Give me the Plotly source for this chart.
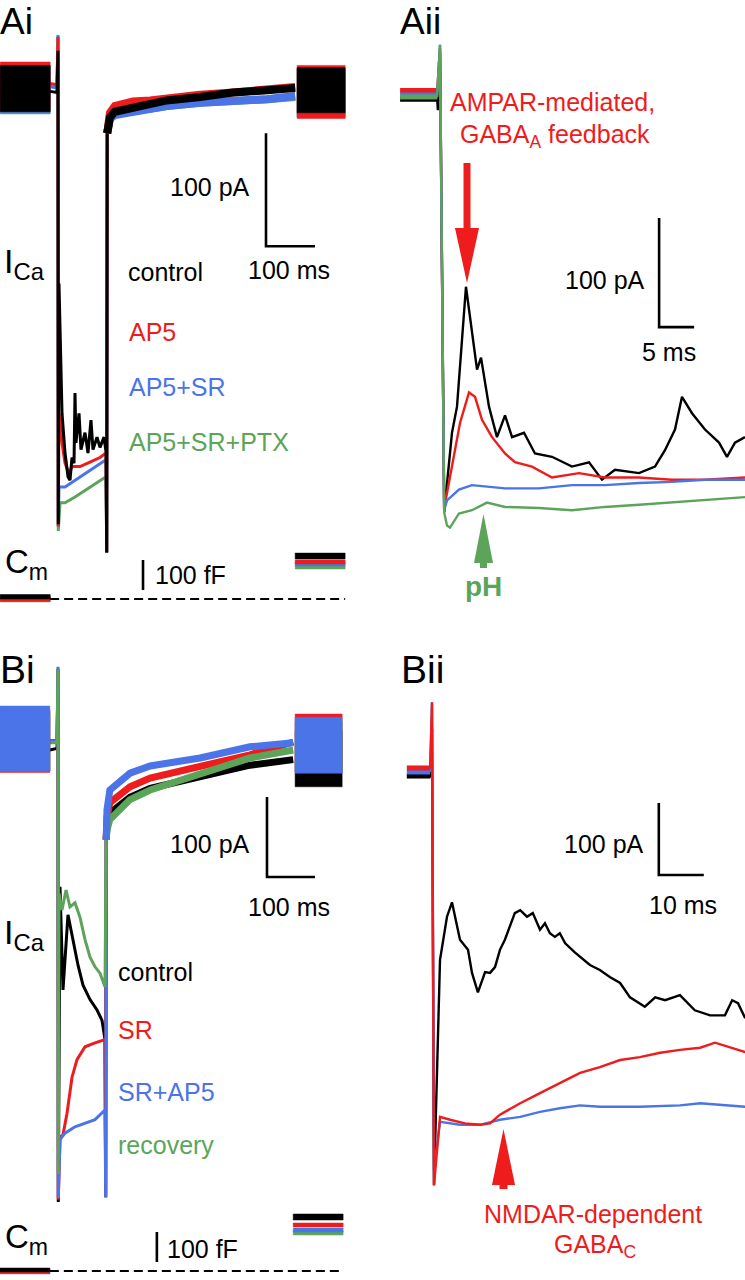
import plotly.graph_objects as go

W, H = 745, 1280
BLACK = "#000000"
RED = "#ee1c1c"
BLUE = "#4a74e8"
GREEN = "#5ca45a"
FONT = "Liberation Sans, Arial, Helvetica, sans-serif"

# ======================= DATA =======================
# ---- Panel Ai: whole 100-ms depolarisation (time in ms from step onset, current in pA from holding)
ai_names = ["control", "AP5", "AP5+SR", "AP5+SR+PTX"]
ai_colors = [BLACK, RED, BLUE, GREEN]
ai_block_pre_t = [-118, -16]
ai_block_post_t = [488, 586]
ai_pre_top = [20, 23, 19, 19]
ai_pre_bot = [-21, -19, -22, -23]
ai_post_top = [18, 20, 17, 17]
ai_post_bot = [-22, -27, -26, -25]

ai_t_control = [-16, -2, 0, 0.6, 2.0, 6.1, 8.2, 14.3, 20.4, 24.5, 28.6, 32.7, 34.7, 36.7, 42.9, 46.9,
                55.1, 61.2, 67.3, 71.4, 79.6, 85.7, 93.9, 98.0, 99.4, 100.4]
ai_i_control = [-3, -4, 33, -386, -173, -235, -288, -323, -344, -347, -327, -332, -270, -314, -288, -320,
                -305, -323, -294, -320, -309, -318, -309, -322, -411, -40]
ai_t_ap5 = [-16, -2, 0, 0.6, 2.0, 8.2, 14.3, 22.4, 28.6, 44.9, 65.3, 85.7, 98.0, 99.4, 100.4]
ai_i_ap5 = [4, 3, 45, -388, -288, -314, -332, -341, -335, -335, -331, -327, -323, -411, -40]
ai_t_sr = [-16, -2, 0, 0.6, 2.0, 14.3, 34.7, 55.1, 75.5, 98.0, 99.4, 100.4]
ai_i_sr = [1, 0, 46, -388, -353, -353, -347, -341, -335, -329, -411, -40]
ai_t_ptx = [-16, -2, 0, 0.6, 4.1, 14.3, 34.7, 55.1, 75.5, 98.0, 99.4, 100.4]
ai_i_ptx = [2, 1, 47, -392, -367, -367, -362, -356, -350, -344, -411, -40]

ai_decay_t = [100.4, 102, 106, 116, 153, 188, 222, 290, 357, 427, 484]
ai_decay_control = [-40, -31, -26, -21, -17, -13, -11, -8, -4, -2, 0]
ai_decay_ap5 = [-40, -28, -22, -16, -12, -11, -9, -6, -4, -2, 1]
ai_decay_sr = [-40, -32, -27, -24, -21, -18, -16, -13, -12, -10, -7]
ai_decay_ptx = [-40, -32, -27, -23, -20, -18, -16, -13, -12, -10, -8]

# membrane capacitance (fF, relative to pre-step)
ai_cm_pre_t = [-118, -16]
ai_cm_post_t = [484, 586]
ai_cm_pre_top = [15, 10, 12, 6]
ai_cm_pre_bot = [0, -8, -4, -10]
ai_cm_post_top = [153, 130, 123, 113]
ai_cm_post_bot = [133, 117, 110, 100]
ai_cm_base_t = [-16, 586]
ai_cm_base = [0, 0]

# ---- Panel Aii: first ~45 ms of the step
aii_pre_t = [-5.7, -0.4]
aii_pre_level = [-3, 5, 1, -1]
aii_t_control = [-0.4, -0.3, 0, 0.6, 1.71, 2.43, 3.71, 4.57, 5.29, 5.86, 7.0, 8.14, 9.29, 10.29, 12.0,
                 13.57, 16.0, 18.86, 21.29, 23.14, 25.0, 28.43, 30.71, 32.14, 33.57, 34.57, 36.0, 37.86,
                 39.86, 41.0, 42.14, 43.57]
aii_i_control = [-3, -13, 40, -382, -309, -285, -175, -215, -251, -240, -285, -313, -293, -313, -309,
                 -328, -331, -340, -336, -352, -343, -346, -340, -325, -306, -276, -291, -306,
                 -318, -331, -318, -313]
aii_t_ap5 = [-0.4, 0, 0.6, 1.71, 2.86, 4.14, 5.0, 6.0, 7.43, 9.29, 10.71, 13.14, 16.0, 19.86, 23.57,
             28.43, 33.14, 37.86, 43.57]
aii_i_ap5 = [5, 44, -378, -340, -300, -272, -276, -297, -313, -328, -336, -340, -350, -346, -350,
             -350, -352, -352, -350]
aii_t_sr = [-0.4, 0, 0.6, 1.0, 2.71, 4.57, 9.29, 14.14, 18.86, 23.57, 28.43, 33.14, 37.86, 43.57]
aii_i_sr = [1, 47, -380, -371, -361, -357, -360, -360, -357, -357, -355, -354, -352, -352]
aii_t_ptx = [-0.4, 0, 0.6, 1.0, 1.43, 2.71, 4.57, 6.71, 9.29, 14.14, 18.86, 23.57, 28.43, 33.14, 37.86, 43.57]
aii_i_ptx = [-1, 47, -382, -394, -396, -383, -380, -373, -377, -378, -380, -377, -375, -373, -371, -368]

# ---- Panel Bi: whole step
bi_names = ["control", "SR", "SR+AP5", "recovery"]
bi_colors = [BLACK, RED, BLUE, GREEN]
bi_block_pre_t = [-121, -17]
bi_block_post_t = [494, 592]
bi_pre_top = [38, 40, 45, 35]
bi_pre_bot = [-36, -38, -37, -35]
bi_post_top = [14, 35, 31, 25]
bi_post_bot = [-56, -37, -39, -38]

bi_t_control = [-17, -2, 0, 0.6, 4.2, 10.4, 20.8, 31.3, 41.7, 52.1, 66.7, 81.3, 91.7, 97.9, 99.4, 100.4]
bi_i_control = [-10, -8, 90, -575, -181, -310, -216, -248, -279, -304, -322, -335, -348, -372, -569, -122]
bi_t_sr = [-17, -2, 0, 0.6, 4.2, 10.4, 18.8, 29.2, 39.6, 56.3, 77.1, 97.9, 99.4, 100.4]
bi_i_sr = [2, 2, 92, -572, -494, -491, -464, -419, -397, -381, -376, -372, -569, -122]
bi_t_srap5 = [-17, -2, 0, 0.6, 4.2, 14.6, 35.4, 56.3, 77.1, 97.9, 99.4, 100.4]
bi_i_srap5 = [1, 1, 94, -570, -497, -489, -481, -476, -472, -460, -569, -122]
bi_t_rec = [-17, -2, 0, 0.6, 2.1, 8.3, 16.7, 25.0, 35.4, 45.8, 56.3, 66.7, 77.1, 87.5, 97.9, 100.4]
bi_i_rec = [-1, -1, 90, -540, -189, -210, -185, -206, -201, -219, -247, -269, -281, -289, -306, -122]

bi_decay_t = [100.4, 102, 108, 150, 192, 296, 400, 490]
bi_decay_control = [-122, -105, -89, -69, -58, -44, -29, -22]
bi_decay_sr = [-122, -95, -76, -56, -45, -31, -16, 0]
bi_decay_srap5 = [-122, -85, -60, -39, -30, -20, -6, -1]
bi_decay_rec = [-122, -110, -97, -72, -60, -39, -20, -10]

bi_cm_pre_t = [-121, -17]
bi_cm_post_t = [490, 594]
bi_cm_pre_top = [10, 5, 3, 8]
bi_cm_pre_bot = [-3, -8, -10, -4]
bi_cm_post_top = [190, 160, 143, 133]
bi_cm_post_bot = [170, 147, 130, 120]
bi_cm_base_t = [-17, 594]
bi_cm_base = [0, 0]

# ---- Panel Bii: first ~70 ms of the step
bii_pre_t = [-5.6, -0.4]
bii_pre_level = [-5.6, 5.6, 0]
bii_t_control = [-0.4, 0, 0.44, 1.78, 3.33, 4.44, 6.22, 8.0, 8.89, 10.2, 11.8, 12.9, 14.0, 15.1, 16.2,
                 17.3, 18.4, 19.6, 21.1, 22.4, 24.0, 25.1, 26.2, 27.3, 28.4, 29.6, 31.8, 35.1, 37.3,
                 39.6, 41.8, 44.0, 47.3, 49.6, 51.8, 55.1, 58.4, 61.8, 65.1, 66.7, 68.0, 69.6]
bii_i_control = [-8, 60, -574, -261, -201, -181, -233, -247, -279, -306, -278, -279, -271, -247, -233,
                 -215, -196, -192, -201, -196, -219, -210, -224, -229, -224, -238, -251, -268, -275,
                 -285, -293, -313, -326, -313, -317, -310, -331, -338, -338, -317, -321, -342]
bii_t_sr = [-0.4, 0, 0.44, 1.78, 4.0, 7.33, 10.7, 12.9, 15.1, 19.6, 24.0, 28.4, 32.9, 37.3, 41.8, 46.2,
            50.7, 55.1, 59.6, 62.9, 66.2, 69.6]
bii_i_sr = [5, 97, -574, -479, -483, -488, -490, -488, -476, -460, -446, -432, -418, -410, -400, -396,
            -390, -386, -383, -376, -382, -389]
bii_t_srap5 = [-0.4, 0, 0.44, 1.78, 6.22, 10.7, 15.1, 19.6, 24.0, 28.4, 32.9, 37.3, 46.2, 55.1, 59.6, 69.6]
bii_i_srap5 = [0, 97, -553, -486, -490, -490, -483, -479, -472, -467, -463, -465, -465, -463, -460, -465]

# ---- scale bars (anchor = corner of the L; lengths in data units)
ai_bar = dict(t=424.5, i=-140, dt=100, di=100)
aii_bar = dict(t=31.3, i=-212, dt=5, di=100)
bi_bar = dict(t=435.4, i=-168.75, dt=100, di=100)
bii_bar = dict(t=50.4, i=-143, dt=10, di=100)
ai_cm_bar = dict(t=173.5, c=30, dc=100)
bi_cm_bar = dict(t=206, c=30, dc=100)

# ======================= FIGURE =======================
fig = go.Figure()


def line(xa, ya, t, v, color, width, dash=None):
    fig.add_trace(go.Scatter(x=t, y=v, mode="lines", xaxis=xa, yaxis=ya, hoverinfo="skip",
                             showlegend=False,
                             line=dict(color=color, width=width, dash=dash, shape="linear")))


def band(xa, ya, t2, top, bot, color):
    fig.add_trace(go.Scatter(x=[t2[0], t2[1], t2[1], t2[0], t2[0]], y=[top, top, bot, bot, top],
                             mode="lines", fill="toself", fillcolor=color, xaxis=xa, yaxis=ya,
                             hoverinfo="skip", showlegend=False, line=dict(color=color, width=0.5)))


def scalebar(xa, ya, b):
    line(xa, ya, [b["t"], b["t"], b["t"] + b["dt"]], [b["i"] + b["di"], b["i"], b["i"]], BLACK, 2.6)


# ---- Ai (draw order: green, blue, red, black on top)
ai_t = [ai_t_control, ai_t_ap5, ai_t_sr, ai_t_ptx]
ai_i = [ai_i_control, ai_i_ap5, ai_i_sr, ai_i_ptx]
ai_dec = [ai_decay_control, ai_decay_ap5, ai_decay_sr, ai_decay_ptx]
for k in [3, 2, 1, 0]:
    c = ai_colors[k]
    band("x", "y", ai_block_pre_t, ai_pre_top[k], ai_pre_bot[k], c)
    band("x", "y", ai_block_post_t, ai_post_top[k], ai_post_bot[k], c)
    line("x", "y", ai_t[k], ai_i[k], c, 3)
    line("x", "y", ai_decay_t, ai_dec[k], c, 8)
for k in [3, 2, 1, 0]:
    c = ai_colors[k]
    band("x", "y5", ai_cm_pre_t, ai_cm_pre_top[k], ai_cm_pre_bot[k], c)
    band("x", "y5", ai_cm_post_t, ai_cm_post_top[k], ai_cm_post_bot[k], c)
line("x", "y5", ai_cm_base_t, ai_cm_base, BLACK, 2, dash="9px,5px")
scalebar("x", "y", ai_bar)
line("x", "y5", [ai_cm_bar["t"]] * 2, [ai_cm_bar["c"], ai_cm_bar["c"] + ai_cm_bar["dc"]], BLACK, 2.6)

# ---- Aii (black, red, blue, green on top)
aii_t = [aii_t_control, aii_t_ap5, aii_t_sr, aii_t_ptx]
aii_i = [aii_i_control, aii_i_ap5, aii_i_sr, aii_i_ptx]
for k in [0, 1, 2, 3]:
    c = ai_colors[k]
    line("x2", "y2", aii_pre_t, [aii_pre_level[k]] * 2, c, 5)
    line("x2", "y2", aii_t[k], aii_i[k], c, 2.4)
scalebar("x2", "y2", aii_bar)

# ---- Bi (blocks/decay: black, red, green, blue on top; step traces: green on top)
bi_t = [bi_t_control, bi_t_sr, bi_t_srap5, bi_t_rec]
bi_i = [bi_i_control, bi_i_sr, bi_i_srap5, bi_i_rec]
bi_dec = [bi_decay_control, bi_decay_sr, bi_decay_srap5, bi_decay_rec]
for k in [0, 1, 2, 3]:
    line("x3", "y3", bi_t[k], bi_i[k], bi_colors[k], 3)
for k in [0, 1, 3, 2]:
    c = bi_colors[k]
    band("x3", "y3", bi_block_pre_t, bi_pre_top[k], bi_pre_bot[k], c)
    band("x3", "y3", bi_block_post_t, bi_post_top[k], bi_post_bot[k], c)
    line("x3", "y3", bi_decay_t, bi_dec[k], c, 7)
for k in [3, 2, 1, 0]:
    c = bi_colors[k]
    band("x3", "y6", bi_cm_pre_t, bi_cm_pre_top[k], bi_cm_pre_bot[k], c)
    band("x3", "y6", bi_cm_post_t, bi_cm_post_top[k], bi_cm_post_bot[k], c)
line("x3", "y6", bi_cm_base_t, bi_cm_base, BLACK, 2, dash="9px,5px")
scalebar("x3", "y3", bi_bar)
line("x3", "y6", [bi_cm_bar["t"]] * 2, [bi_cm_bar["c"], bi_cm_bar["c"] + bi_cm_bar["dc"]], BLACK, 2.6)

# ---- Bii (black, blue, red on top)
bii_t = [bii_t_control, bii_t_sr, bii_t_srap5]
bii_i = [bii_i_control, bii_i_sr, bii_i_srap5]
bii_colors = [BLACK, RED, BLUE]
for k in [0, 2, 1]:
    c = bii_colors[k]
    line("x4", "y4", bii_pre_t, [bii_pre_level[k]] * 2, c, 5)
    line("x4", "y4", bii_t[k], bii_i[k], c, 2.4)
scalebar("x4", "y4", bii_bar)


# ---- axes: each panel is a pixel region; ranges chosen from the scale bars
def xrange_(p0, p1, origin, s):
    return [(p0 - origin) / s, (p1 - origin) / s]


def yrange_(ptop, pbot, origin, s):
    return [(origin - pbot) / s, (origin - ptop) / s]


hidden = dict(visible=False, showgrid=False, zeroline=False, fixedrange=True)
fig.update_layout(
    xaxis=dict(domain=[0, 372 / W], range=xrange_(0, 372, 58, 0.49), anchor="y", **hidden),
    yaxis=dict(domain=[1 - 640 / H, 1], range=yrange_(0, 640, 88, 1.13), anchor="x", **hidden),
    yaxis5=dict(overlaying="y", anchor="x", range=yrange_(0, 640, 599, 0.3), **hidden),
    xaxis2=dict(domain=[372 / W, 1], range=xrange_(372, 745, 440, 7.0), anchor="y2", **hidden),
    yaxis2=dict(domain=[1 - 640 / H, 1], range=yrange_(0, 640, 96, 1.09), anchor="x2", **hidden),
    xaxis3=dict(domain=[0, 372 / W], range=xrange_(0, 372, 58, 0.48), anchor="y3", **hidden),
    yaxis3=dict(domain=[0, 1 - 640 / H], range=yrange_(640, 1280, 742, 0.8), anchor="x3", **hidden),
    yaxis6=dict(overlaying="y3", anchor="x3", range=yrange_(640, 1280, 1271, 0.3), **hidden),
    xaxis4=dict(domain=[372 / W, 1], range=xrange_(372, 745, 432, 4.5), anchor="y4", **hidden),
    yaxis4=dict(domain=[0, 1 - 640 / H], range=yrange_(640, 1280, 772, 0.72), anchor="x4", **hidden),
)

# ---- text labels (pixel placement: left edge, baseline)
annotations = []


def label(text, x_left, baseline, size, color=BLACK):
    top = max(0.0, baseline - 0.905 * size)
    annotations.append(dict(text=text, x=x_left / W, y=1 - top / H, xref="paper", yref="paper",
                            xanchor="left", yanchor="top", showarrow=False, borderpad=0,
                            font=dict(family=FONT, size=size, color=color)))


label("Ai", -1, 33.5, 37)
label("Aii", 399, 33.5, 37)
label("Bi", -1, 682, 39)
label("Bii", 400, 682, 39)

label("I<sub>Ca</sub>", 3, 272, 34)
label("100 pA", 169, 195, 25)
label("100 ms", 247, 278, 25)
label("control", 127, 280, 25)
label("AP5", 128, 340, 25, RED)
label("AP5+SR", 128, 395, 25, BLUE)
label("AP5+SR+PTX", 128, 450, 25, GREEN)
label("C<sub>m</sub>", 4, 572, 33)
label("100 fF", 154, 583, 25)

label("AMPAR-mediated,", 449, 110, 25, RED)
label("GABA<sub>A</sub> feedback", 459, 142, 25, RED)
label("100 pA", 564, 288, 25)
label("5 ms", 641, 360, 25)
label("<b>pH</b>", 464, 595, 28, GREEN)

label("100 pA", 169, 852, 25)
label("100 ms", 247, 915, 25)
label("I<sub>Ca</sub>", 3, 943, 34)
label("control", 117, 980, 25)
label("SR", 117, 1038, 25, RED)
label("SR+AP5", 117, 1100, 25, BLUE)
label("recovery", 117, 1153, 25, GREEN)
label("C<sub>m</sub>", 4, 1247, 33)
label("100 fF", 166, 1257, 25)

label("100 pA", 563, 852, 25)
label("10 ms", 648, 913, 25)
label("NMDAR-dependent", 483, 1222, 25, RED)
label("GABA<sub>C</sub>", 553, 1252, 25, RED)


# ---- arrows (pixel geometry converted to paper coordinates)
def poly(points, color):
    d = "M " + " L ".join(f"{x / W:.5f},{1 - y / H:.5f}" for x, y in points) + " Z"
    return dict(type="path", path=d, xref="paper", yref="paper", fillcolor=color,
                line=dict(width=0), layer="above")


shapes = [
    poly([(463.5, 163), (470.5, 163), (470.5, 230), (463.5, 230)], RED),
    poly([(455, 228), (479, 228), (467, 283)], RED),
    poly([(474, 563), (493, 563), (483.5, 514)], GREEN),
    poly([(480, 561), (487, 561), (487, 568), (480, 568)], GREEN),
    poly([(492, 1185), (515, 1185), (503.5, 1129)], RED),
    poly([(499.5, 1183), (507.5, 1183), (507.5, 1189), (499.5, 1189)], RED),
]

fig.update_layout(
    width=W, height=H, autosize=False,
    margin=dict(l=0, r=0, t=0, b=0, pad=0),
    paper_bgcolor="white", plot_bgcolor="white",
    showlegend=False,
    annotations=annotations, shapes=shapes,
    font=dict(family=FONT, color=BLACK),
)

fig.write_html("out.html", config={"displayModeBar": False},
               post_script="document.body.style.margin='0';document.body.style.overflow='hidden';")
